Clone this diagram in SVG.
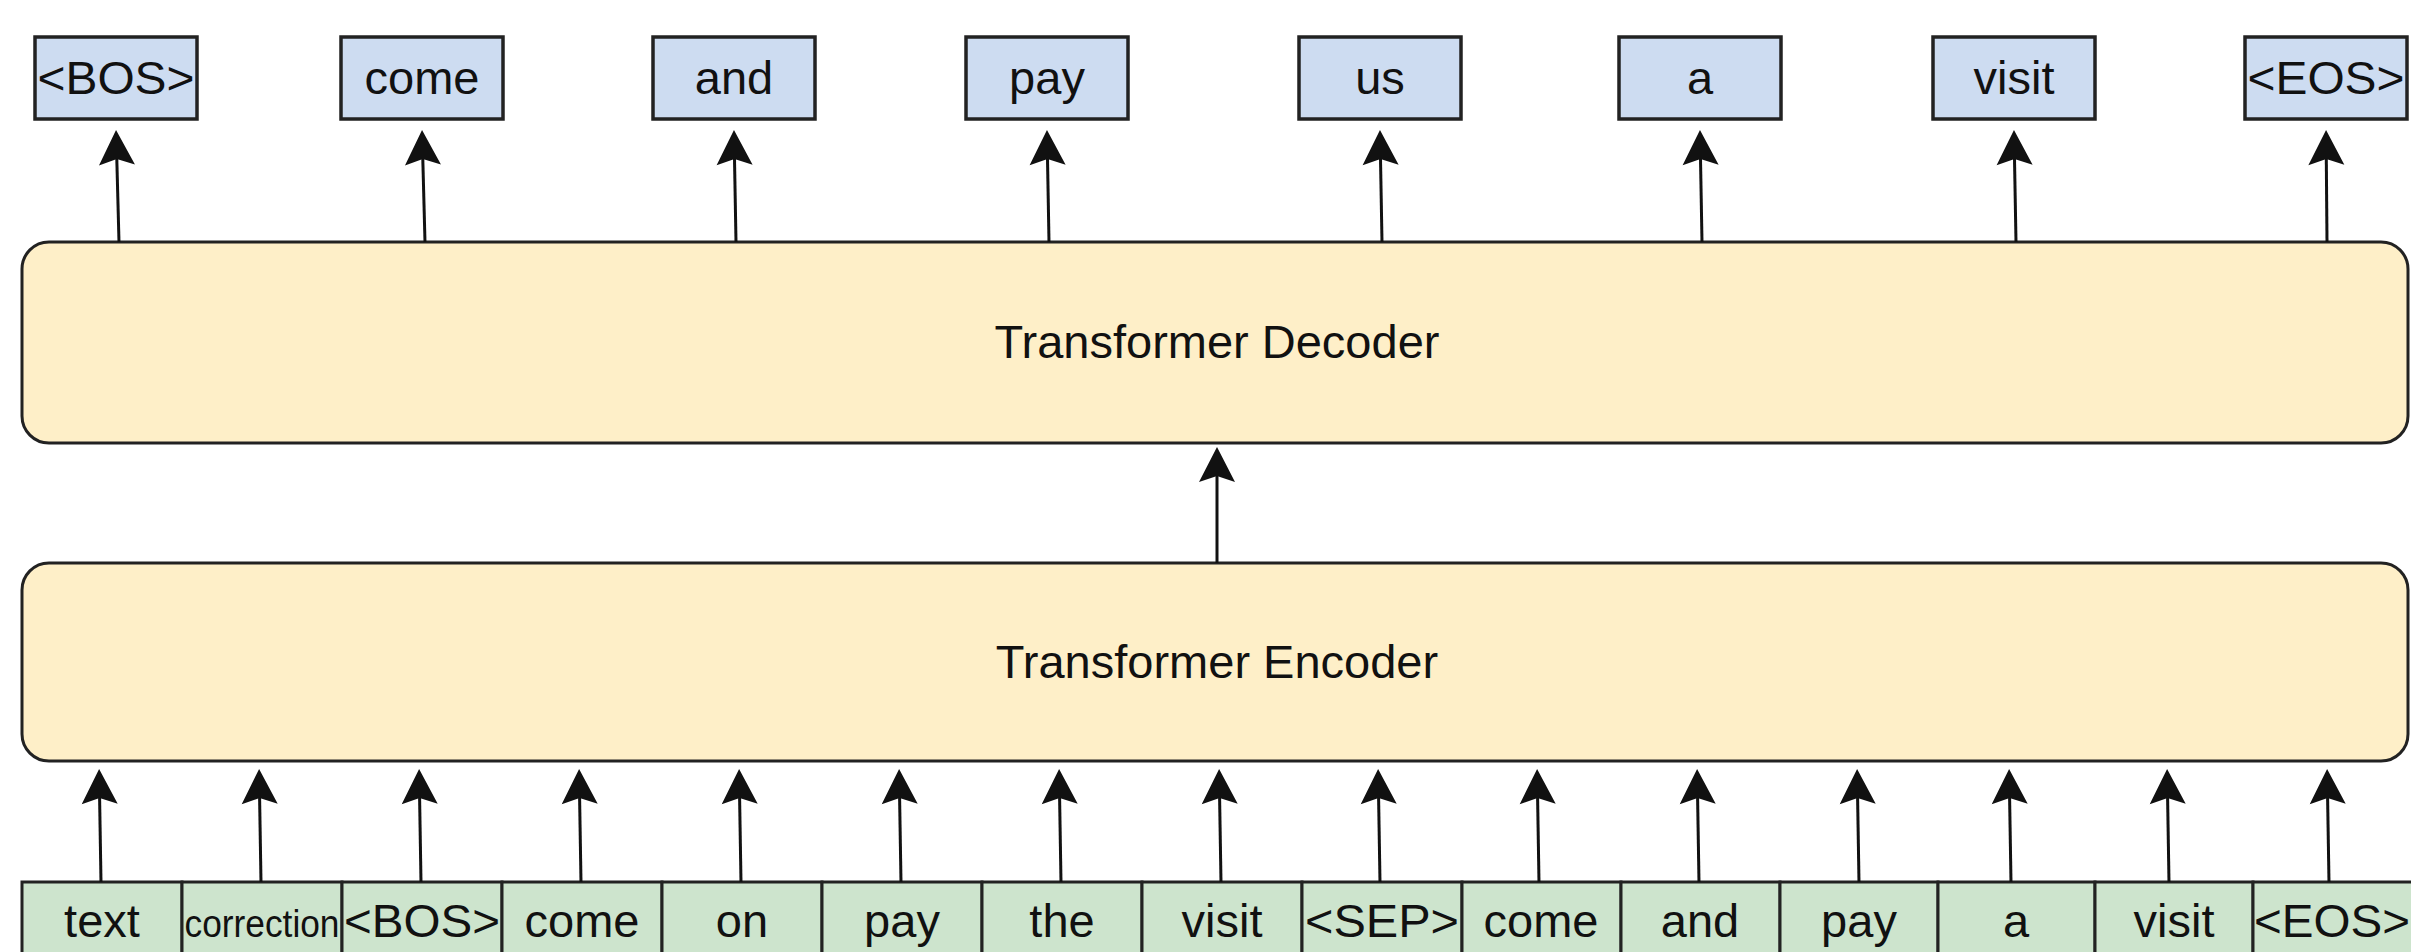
<svg xmlns="http://www.w3.org/2000/svg" width="2411" height="952" viewBox="0 0 2411 952">
  <style>
    text { font-family: "Liberation Sans", Arial, Helvetica, sans-serif; fill: #111; text-anchor: middle; }
    .out rect { fill: #cddcf1; stroke: #222; stroke-width: 3.5; }
    .out text { font-size: 47px; }
    .block { fill: #feefc8; stroke: #222; stroke-width: 3; }
    .block-label { font-size: 47px; }
    .inp rect { fill: #cde4cd; stroke: #222; stroke-width: 3; }
    .inp text { font-size: 47px; }
    .inp text.small { font-size: 39px; }
    .edge { fill: none; stroke: #111; stroke-width: 3; marker-end: url(#ah); }
  </style>
  <defs>
    <marker id="ah" markerUnits="userSpaceOnUse" viewBox="-36 -20 40 40" markerWidth="40" markerHeight="40" refX="-29" refY="0" orient="auto">
      <path d="M0,0 L-35,-18 L-29,0 L-35,18 Z" fill="#111"/>
    </marker>
  </defs>
  <rect width="2411" height="952" fill="#ffffff"/>

  <!-- decoder outputs -->
  <g id="out-bos" class="out"><rect x="35" y="37" width="162" height="82"/><text x="116" y="94" textLength="157" lengthAdjust="spacingAndGlyphs">&lt;BOS&gt;</text></g>
  <g id="out-come" class="out"><rect x="341" y="37" width="162" height="82"/><text x="422" y="94">come</text></g>
  <g id="out-and" class="out"><rect x="653" y="37" width="162" height="82"/><text x="734" y="94">and</text></g>
  <g id="out-pay" class="out"><rect x="966" y="37" width="162" height="82"/><text x="1047" y="94">pay</text></g>
  <g id="out-us" class="out"><rect x="1299" y="37" width="162" height="82"/><text x="1380" y="94">us</text></g>
  <g id="out-a" class="out"><rect x="1619" y="37" width="162" height="82"/><text x="1700" y="94">a</text></g>
  <g id="out-visit" class="out"><rect x="1933" y="37" width="162" height="82"/><text x="2014" y="94">visit</text></g>
  <g id="out-eos" class="out"><rect x="2245" y="37" width="162" height="82"/><text x="2326" y="94" textLength="157" lengthAdjust="spacingAndGlyphs">&lt;EOS&gt;</text></g>

  <!-- transformer blocks -->
  <g id="decoder"><rect class="block" x="22" y="242" width="2386" height="201" rx="27" ry="27"/><text class="block-label" x="1217" y="358">Transformer Decoder</text></g>
  <g id="encoder"><rect class="block" x="22" y="563" width="2386" height="198" rx="27" ry="27"/><text class="block-label" x="1217" y="678">Transformer Encoder</text></g>

  <!-- encoder inputs -->
  <g id="in-text" class="inp"><rect x="22" y="882" width="160" height="84"/><text x="102" y="937">text</text></g>
  <g id="in-correction" class="inp"><rect x="182" y="882" width="160" height="84"/><text class="small" x="262" y="937" textLength="155" lengthAdjust="spacingAndGlyphs">correction</text></g>
  <g id="in-bos" class="inp"><rect x="342" y="882" width="160" height="84"/><text x="422" y="937" textLength="156" lengthAdjust="spacingAndGlyphs">&lt;BOS&gt;</text></g>
  <g id="in-come1" class="inp"><rect x="502" y="882" width="160" height="84"/><text x="582" y="937">come</text></g>
  <g id="in-on" class="inp"><rect x="662" y="882" width="160" height="84"/><text x="742" y="937">on</text></g>
  <g id="in-pay1" class="inp"><rect x="822" y="882" width="160" height="84"/><text x="902" y="937">pay</text></g>
  <g id="in-the" class="inp"><rect x="982" y="882" width="160" height="84"/><text x="1062" y="937">the</text></g>
  <g id="in-visit1" class="inp"><rect x="1142" y="882" width="160" height="84"/><text x="1222" y="937">visit</text></g>
  <g id="in-sep" class="inp"><rect x="1302" y="882" width="160" height="84"/><text x="1382" y="937" textLength="154" lengthAdjust="spacingAndGlyphs">&lt;SEP&gt;</text></g>
  <g id="in-come2" class="inp"><rect x="1462" y="882" width="159" height="84"/><text x="1541" y="937">come</text></g>
  <g id="in-and" class="inp"><rect x="1621" y="882" width="159" height="84"/><text x="1700" y="937">and</text></g>
  <g id="in-pay2" class="inp"><rect x="1780" y="882" width="158" height="84"/><text x="1859" y="937">pay</text></g>
  <g id="in-a" class="inp"><rect x="1938" y="882" width="157" height="84"/><text x="2016" y="937">a</text></g>
  <g id="in-visit2" class="inp"><rect x="2095" y="882" width="158" height="84"/><text x="2174" y="937">visit</text></g>
  <g id="in-eos" class="inp"><rect x="2253" y="882" width="160" height="84"/><text x="2332" y="937" textLength="156" lengthAdjust="spacingAndGlyphs">&lt;EOS&gt;</text></g>

  <!-- connectors -->
  <g id="connectors">
    <path class="edge" d="M119,242 L116.8,159"/>
    <path class="edge" d="M425,242 L422.8,159"/>
    <path class="edge" d="M736,242 L734.5,159"/>
    <path class="edge" d="M1049,242 L1047.5,159"/>
    <path class="edge" d="M1382,242 L1380.5,159"/>
    <path class="edge" d="M1702,242 L1700.5,159"/>
    <path class="edge" d="M2016,242 L2014.5,159"/>
    <path class="edge" d="M2327,242 L2326.3,159"/>

    <path class="edge" d="M1217,563 L1217,476"/>

    <path class="edge" d="M101,882 L99.6,798"/>
    <path class="edge" d="M261,882 L259.6,798"/>
    <path class="edge" d="M421,882 L419.6,798"/>
    <path class="edge" d="M581,882 L579.6,798"/>
    <path class="edge" d="M741,882 L739.6,798"/>
    <path class="edge" d="M901,882 L899.6,798"/>
    <path class="edge" d="M1061,882 L1059.6,798"/>
    <path class="edge" d="M1221,882 L1219.6,798"/>
    <path class="edge" d="M1380,882 L1378.6,798"/>
    <path class="edge" d="M1539,882 L1537.6,798"/>
    <path class="edge" d="M1699,882 L1697.6,798"/>
    <path class="edge" d="M1859,882 L1857.6,798"/>
    <path class="edge" d="M2011,882 L2009.6,798"/>
    <path class="edge" d="M2169,882 L2167.6,798"/>
    <path class="edge" d="M2329,882 L2327.6,798"/>
  </g>
</svg>
